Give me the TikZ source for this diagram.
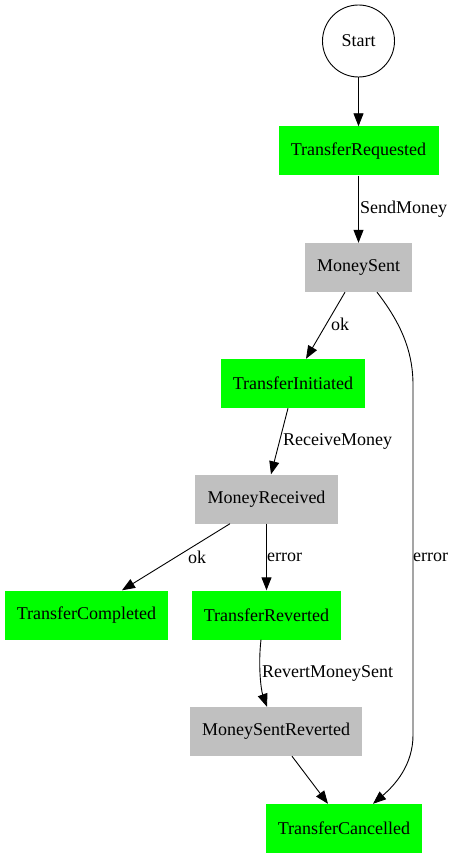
\documentclass[tikz,border=0pt]{standalone}
\usepackage{fontspec}
\setmainfont{Liberation Serif}
\usetikzlibrary{arrows.meta}
\definecolor{gvgreen}{HTML}{00FF00}
\definecolor{gvgray}{HTML}{C0C0C0}
\begin{document}
\begin{tikzpicture}[x=1pt,y=-1pt,
  lbl/.style={font=\fontsize{18}{20}\selectfont},
  box/.style={lbl, rectangle, minimum height=49pt, inner sep=0pt},
  grnbox/.style={box, fill=gvgreen},
  graybox/.style={box, fill=gvgray},
  startnode/.style={lbl, circle, draw, line width=0.9pt, minimum size=72pt, inner sep=0pt},
  edge/.style={draw, line width=0.9pt, -{Triangle[length=13pt,width=10pt]}},
  elabel/.style={lbl, anchor=west, inner sep=0pt}
]
\useasboundingbox (0,0) rectangle (455,858);

\node[startnode] (start) at (358.5,41) {Start};
\node[grnbox, minimum width=160pt] (treq) at (358.5,151) {TransferRequested};
\node[graybox, minimum width=107pt] (ms) at (358.5,267.5) {MoneySent};
\node[grnbox, minimum width=144pt] (ti) at (293,383.5) {TransferInitiated};
\node[graybox, minimum width=143pt] (mr) at (266.5,499) {MoneyReceived};
\node[grnbox, minimum width=163pt] (tcomp) at (86.5,615) {TransferCompleted};
\node[grnbox, minimum width=149pt] (trev) at (266.5,615) {TransferReverted};
\node[graybox, minimum width=172pt] (msr) at (276,731.5) {MoneySentReverted};
\node[grnbox, minimum width=156pt] (tcan) at (344,828.5) {TransferCancelled};

\draw[edge] (start) -- (treq);
\draw[edge] (treq) -- (ms);
\draw[edge] ([xshift=-13.5pt]ms.south) -- ([xshift=13pt]ti.north);
\draw[edge] ([xshift=-5pt]ti.south) -- ([xshift=4.5pt]mr.north);
\draw[edge] ([xshift=-36.5pt]mr.south) -- ([xshift=35.5pt]tcomp.north);
\draw[edge] (mr) -- (trev);
\draw[edge] ([xshift=-5.5pt]trev.south) .. controls (258,665) and (261,690) .. ([xshift=-9pt]msr.north);
\draw[edge] ([xshift=16pt]msr.south) -- ([xshift=-16pt]tcan.north);
\draw[edge] ([xshift=18.5pt]ms.south) .. controls (400,322) and (413,350) .. (413,385)
  -- (413,735) .. controls (413,765) and (395,785) .. ([xshift=29pt]tcan.north);

\node[elabel] (l1) at (360,209) {SendMoney};
\node[elabel] (l2) at (331,324) {ok};
\node[elabel] (l3) at (283,441) {ReceiveMoney};
\node[elabel] (l4) at (188,557) {ok};
\node[elabel] (l5) at (267,557) {error};
\node[elabel] (l6) at (413,557) {error};
\node[elabel] (l7) at (262,673) {RevertMoneySent};
\end{tikzpicture}
\end{document}
